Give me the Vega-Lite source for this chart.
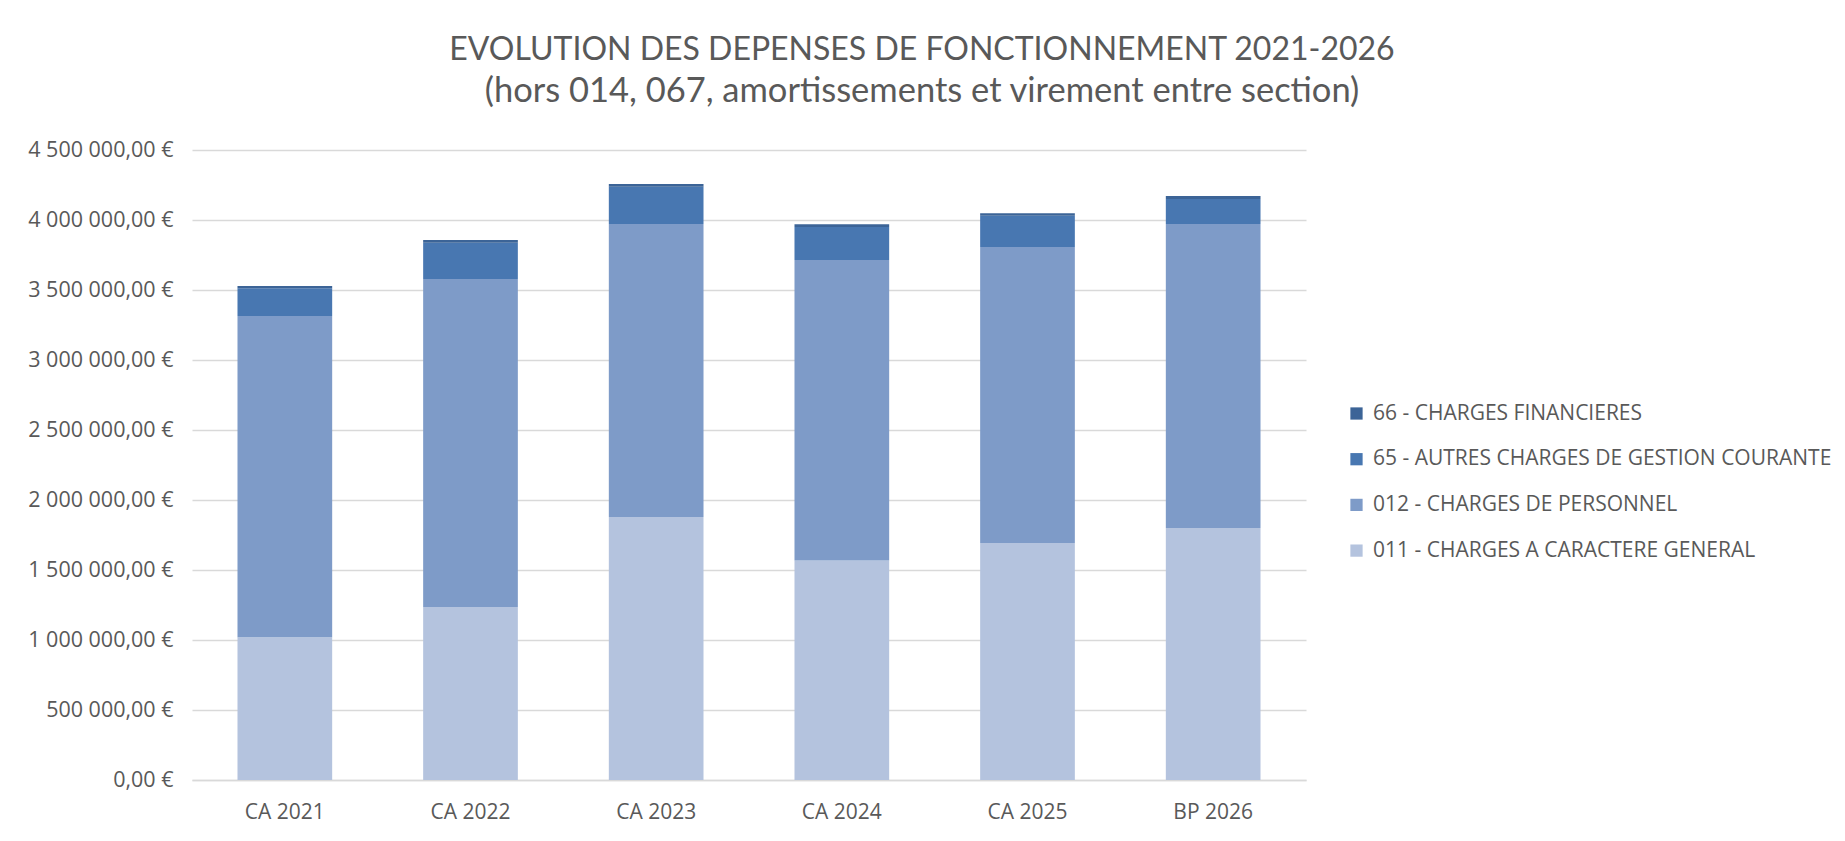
{
  "$schema": "https://vega.github.io/schema/vega-lite/v6.json",
  "width": 1114,
  "height": 630,
  "autosize": {"type": "none"},
  "padding": {"left": 192, "top": 150, "right": 539, "bottom": 61},
  "background": "white",
  "title": {
    "text": "EVOLUTION DES DEPENSES DE FONCTIONNEMENT 2021-2026",
    "subtitle": "(hors 014, 067, amortissements et virement entre section)",
    "anchor": "middle",
    "dx": 173,
    "offset": 30,
    "font": "Lato",
    "fontSize": 32,
    "fontWeight": "normal",
    "color": "#595959",
    "subtitleFont": "Lato",
    "subtitleFontSize": 34.5,
    "subtitleColor": "#595959",
    "subtitleFontWeight": "normal",
    "subtitlePadding": 8
  },
  "data": {
    "values": [
      {"annee": "CA 2021", "serie": "011 - CHARGES A CARACTERE GENERAL", "montant": 1020000},
      {"annee": "CA 2021", "serie": "012 - CHARGES DE PERSONNEL", "montant": 2294000},
      {"annee": "CA 2021", "serie": "65 - AUTRES CHARGES DE GESTION COURANTE", "montant": 198000},
      {"annee": "CA 2021", "serie": "66 - CHARGES FINANCIERES", "montant": 16000},
      {"annee": "CA 2022", "serie": "011 - CHARGES A CARACTERE GENERAL", "montant": 1236000},
      {"annee": "CA 2022", "serie": "012 - CHARGES DE PERSONNEL", "montant": 2343000},
      {"annee": "CA 2022", "serie": "65 - AUTRES CHARGES DE GESTION COURANTE", "montant": 259000},
      {"annee": "CA 2022", "serie": "66 - CHARGES FINANCIERES", "montant": 19000},
      {"annee": "CA 2023", "serie": "011 - CHARGES A CARACTERE GENERAL", "montant": 1879000},
      {"annee": "CA 2023", "serie": "012 - CHARGES DE PERSONNEL", "montant": 2092000},
      {"annee": "CA 2023", "serie": "65 - AUTRES CHARGES DE GESTION COURANTE", "montant": 267000},
      {"annee": "CA 2023", "serie": "66 - CHARGES FINANCIERES", "montant": 19000},
      {"annee": "CA 2024", "serie": "011 - CHARGES A CARACTERE GENERAL", "montant": 1567000},
      {"annee": "CA 2024", "serie": "012 - CHARGES DE PERSONNEL", "montant": 2147000},
      {"annee": "CA 2024", "serie": "65 - AUTRES CHARGES DE GESTION COURANTE", "montant": 236000},
      {"annee": "CA 2024", "serie": "66 - CHARGES FINANCIERES", "montant": 19000},
      {"annee": "CA 2025", "serie": "011 - CHARGES A CARACTERE GENERAL", "montant": 1693000},
      {"annee": "CA 2025", "serie": "012 - CHARGES DE PERSONNEL", "montant": 2114000},
      {"annee": "CA 2025", "serie": "65 - AUTRES CHARGES DE GESTION COURANTE", "montant": 224000},
      {"annee": "CA 2025", "serie": "66 - CHARGES FINANCIERES", "montant": 17000},
      {"annee": "BP 2026", "serie": "011 - CHARGES A CARACTERE GENERAL", "montant": 1800000},
      {"annee": "BP 2026", "serie": "012 - CHARGES DE PERSONNEL", "montant": 2171000},
      {"annee": "BP 2026", "serie": "65 - AUTRES CHARGES DE GESTION COURANTE", "montant": 179000},
      {"annee": "BP 2026", "serie": "66 - CHARGES FINANCIERES", "montant": 21000}
    ]
  },
  "mark": {"type": "bar"},
  "encoding": {
    "x": {
      "field": "annee",
      "type": "nominal",
      "sort": null,
      "scale": {"paddingInner": 0.49, "paddingOuter": 0.245},
      "axis": {
        "title": null,
        "labelAngle": 0,
        "labelFont": "Open Sans",
        "labelFontSize": 21,
        "labelColor": "#595959",
        "labelPadding": 21,
        "ticks": false,
        "domainColor": "#d9d9d9",
        "domainWidth": 1.3
      }
    },
    "y": {
      "field": "montant",
      "type": "quantitative",
      "aggregate": "sum",
      "stack": "zero",
      "scale": {"domain": [0, 4500000], "nice": false},
      "axis": {
        "title": null,
        "values": [0, 500000, 1000000, 1500000, 2000000, 2500000, 3000000, 3500000, 4000000, 4500000],
        "format": "$,.2f",
        "labelFont": "Open Sans",
        "labelFontSize": 21.5,
        "labelColor": "#595959",
        "labelPadding": 19,
        "ticks": false,
        "domain": false,
        "gridColor": "#d9d9d9",
        "gridWidth": 1.3
      }
    },
    "color": {
      "field": "serie",
      "type": "nominal",
      "sort": "descending",
      "scale": {
        "domain": ["66 - CHARGES FINANCIERES", "65 - AUTRES CHARGES DE GESTION COURANTE", "012 - CHARGES DE PERSONNEL", "011 - CHARGES A CARACTERE GENERAL"],
        "range": ["#3c6497", "#4877b1", "#7e9bc8", "#b4c3de"]
      },
      "legend": {
        "title": null,
        "orient": "none",
        "legendX": 1154,
        "legendY": 253,
        "symbolType": "square",
        "symbolSize": 150,
        "symbolStrokeWidth": 0,
        "labelFont": "Open Sans",
        "labelFontSize": 21,
        "labelColor": "#595959",
        "labelOffset": 6,
        "rowPadding": 23.7,
        "labelLimit": 600
      }
    },
    "order": {"field": "serie", "sort": "ascending"}
  },
  "config": {
    "view": {"stroke": null},
    "locale": {
      "number": {
        "decimal": ",",
        "thousands": " ",
        "grouping": [3],
        "currency": ["", " €"]
      }
    }
  }
}
